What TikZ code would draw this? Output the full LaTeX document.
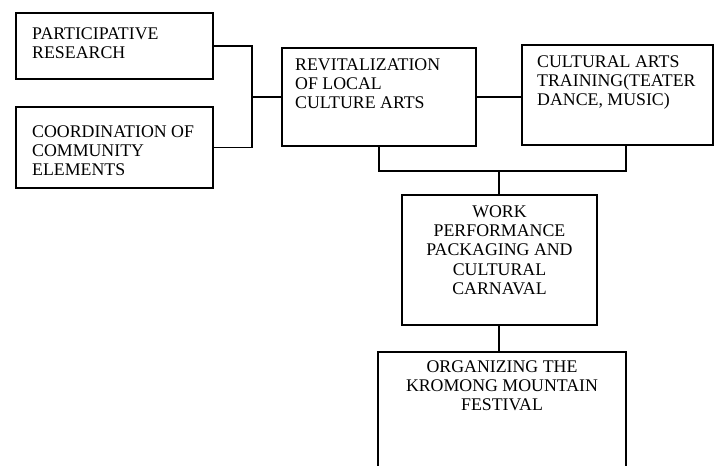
\documentclass[tikz,border=0pt]{standalone}
\usepackage{fontspec}
\setmainfont{Liberation Serif}
\tikzset{
  box/.style={draw, line width=1.3pt, anchor=north west, inner sep=0pt, outer sep=0pt},
  lbl/.style={inner sep=0pt, font=\fontsize{15.2}{16.6}\selectfont},
}
\begin{document}
\begin{tikzpicture}[x=0.03cm, y=-0.03cm]
\useasboundingbox (0,0) rectangle (715,465);
\clip (0,0) rectangle (715,465);

\node[box, minimum width=197*0.03cm, minimum height=66*0.03cm] (research) at (16,13) {};
\node[box, minimum width=197*0.03cm, minimum height=81*0.03cm] (cce) at (16,107) {};
\node[box, minimum width=194*0.03cm, minimum height=98*0.03cm] (rev) at (282,48) {};
\node[box, minimum width=191*0.03cm, minimum height=100*0.03cm] (cult) at (522,45) {};
\node[box, minimum width=195*0.03cm, minimum height=130*0.03cm] (work) at (402,195) {};
\node[box, minimum width=248*0.03cm, minimum height=140*0.03cm] (org) at (378,352) {};

\node[lbl, anchor=north west, align=left] at ([shift={(16,14)}]research.north west) {PARTICIPATIVE\\RESEARCH};
\node[lbl, anchor=north west, align=left] at ([shift={(16,18)}]cce.north west) {COORDINATION OF\\COMMUNITY\\ELEMENTS};
\node[lbl, anchor=north west, align=left] at ([shift={(13,10)}]rev.north west) {REVITALIZATION\\OF LOCAL\\CULTURE ARTS};
\node[lbl, anchor=north west, align=left] at ([shift={(15,10)}]cult.north west) {CULTURAL ARTS\\TRAINING(TEATER\\DANCE, MUSIC)};
\node[lbl, anchor=north, align=center] at ([shift={(0,10)}]work.north) {WORK\\PERFORMANCE\\PACKAGING AND\\CULTURAL\\CARNAVAL};
\node[lbl, anchor=north, align=center] at ([shift={(0,8)}]org.north) {ORGANIZING THE\\KROMONG MOUNTAIN\\FESTIVAL};

% connectors
\coordinate (join) at (252,97);
\coordinate (bar) at (499,171);
\draw[line width=1.3pt] (research.east) -| (join) |- (cce.east);
\draw[line width=1.3pt] (join) -- (rev.west);
\draw[line width=1.3pt] (rev.east) -- (rev.east -| cult.west);
\draw[line width=1.3pt] (rev.south) |- (bar) -| ([shift={(8.5,0)}]cult.south);
\draw[line width=1.3pt] (bar) -- (bar |- work.north);
\draw[line width=1.3pt] (bar |- work.south) -- (bar |- org.north);
\end{tikzpicture}
\end{document}
